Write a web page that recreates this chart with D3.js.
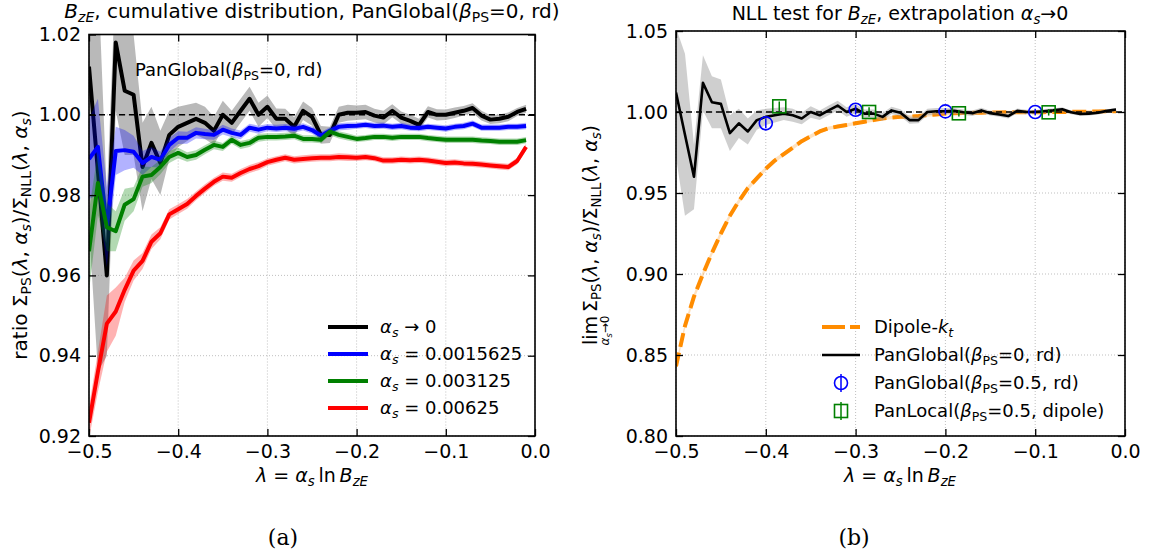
<!DOCTYPE html>
<html>
<head>
<meta charset="utf-8">
<script src="https://cdn.jsdelivr.net/npm/d3@7"></script>
<style>
  body { margin: 0; background: #fff; }
  svg { display: block; }
  text { font-family: "DejaVu Sans", sans-serif; fill: #000; }
</style>
</head>
<body>
<svg id="fig" width="1153" height="556"></svg>
<script>
// lambda grid of the cumulative distributions
const lam = [-0.50,-0.49,-0.48,-0.47,-0.46,-0.45,-0.44,-0.43,-0.42,-0.41,
             -0.40,-0.39,-0.38,-0.37,-0.36,-0.35,-0.34,-0.33,-0.32,-0.31,
             -0.30,-0.29,-0.28,-0.27,-0.26,-0.25,-0.24,-0.23,-0.22,-0.21,
             -0.20,-0.19,-0.18,-0.17,-0.16,-0.15,-0.14,-0.13,-0.12,-0.11,
             -0.10,-0.09,-0.08,-0.07,-0.06,-0.05,-0.04,-0.03,-0.02,-0.01];

// alpha_s -> 0 (PanGlobal beta=0, rd)
const ratioLimit = [1.012,0.986,0.960,1.018,1.006,1.005,0.987,0.993,0.988,0.995,
                    0.997,0.998,0.999,0.998,0.996,1.000,0.998,1.001,1.004,1.000,
                    1.002,0.999,0.999,0.997,1.001,0.9995,0.995,0.995,1.000,1.0005,
                    1.0005,1.0007,0.9998,0.9993,1.001,0.9993,0.9985,0.9975,1.0007,1.000,
                    1.000,1.0005,1.001,1.0017,0.9998,0.9988,0.999,0.9995,1.0007,1.0015];
const errLimit = [0.040,0.050,0.020,0.017,0.016,0.015,0.011,0.009,0.008,0.006,
                  0.005,0.0045,0.004,0.004,0.0035,0.0035,0.003,0.003,0.003,0.003,
                  0.0028,0.0026,0.0025,0.0024,0.0023,0.0022,0.0022,0.002,0.002,0.002,
                  0.0018,0.0018,0.0017,0.0017,0.0016,0.0015,0.0015,0.0015,0.0014,0.0014,
                  0.0013,0.0013,0.0012,0.0012,0.0012,0.0011,0.0011,0.0011,0.001,0.001];

// alpha_s = 0.0015625
const ratioA1 = [0.989,0.992,0.972,0.991,0.9912,0.9908,0.988,0.9895,0.9888,0.9925,
                 0.9943,0.9943,0.9955,0.9952,0.995,0.9963,0.9955,0.995,0.9968,0.9963,
                 0.9968,0.9966,0.9968,0.9965,0.997,0.9962,0.9948,0.996,0.997,0.9972,
                 0.9973,0.9975,0.9972,0.9973,0.997,0.9972,0.9968,0.9967,0.997,0.9968,
                 0.9966,0.997,0.9972,0.9978,0.9968,0.9968,0.9968,0.997,0.997,0.9972];
const errA1 = [0.010,0.012,0.010,0.006,0.005,0.004,0.003,0.0025,0.002,0.0018,
               0.0016,0.0015,0.0014,0.0013,0.0012,0.0012,0.0011,0.0011,0.001,0.001,
               0.0009,0.0009,0.0009,0.0009,0.0009,0.0009,0.0009,0.0009,0.0009,0.0009,
               0.0008,0.0008,0.0008,0.0008,0.0008,0.0008,0.0008,0.0008,0.0008,0.0008,
               0.0008,0.0008,0.0008,0.0008,0.0008,0.0008,0.0008,0.0008,0.0008,0.0008];

// alpha_s = 0.003125
const ratioA2 = [0.966,0.983,0.972,0.971,0.9776,0.979,0.9846,0.985,0.987,0.9895,
                 0.9905,0.9895,0.990,0.9913,0.9925,0.992,0.9938,0.9925,0.993,0.9943,
                 0.9945,0.9945,0.9946,0.9948,0.994,0.994,0.9938,0.9958,0.995,0.9945,
                 0.994,0.9942,0.9945,0.9945,0.9943,0.9945,0.9945,0.9945,0.9942,0.994,
                 0.9938,0.9938,0.9938,0.9938,0.9936,0.9935,0.9933,0.9933,0.9933,0.9937];
const errA2 = [0.010,0.008,0.006,0.005,0.004,0.003,0.0025,0.002,0.0018,0.0015,
               0.0013,0.0012,0.0012,0.0011,0.0011,0.001,0.001,0.001,0.001,0.001,
               0.0009,0.0009,0.0009,0.0009,0.0009,0.0009,0.0009,0.0009,0.0009,0.0009,
               0.0008,0.0008,0.0008,0.0008,0.0008,0.0008,0.0008,0.0008,0.0008,0.0008,
               0.0008,0.0008,0.0008,0.0008,0.0008,0.0008,0.0008,0.0008,0.0008,0.0008];

// alpha_s = 0.00625
const ratioA3 = [0.9233,0.936,0.948,0.951,0.9564,0.9612,0.9636,0.9684,0.9705,0.9752,
                 0.9765,0.9778,0.9798,0.9816,0.9833,0.9846,0.9843,0.9855,0.9865,0.9872,
                 0.9882,0.9888,0.9893,0.9888,0.989,0.9892,0.9893,0.9893,0.9895,0.9894,
                 0.9893,0.9895,0.9892,0.9886,0.9886,0.9888,0.9887,0.9888,0.9886,0.9883,
                 0.988,0.9881,0.9879,0.9878,0.9876,0.9874,0.9872,0.987,0.9885,0.992];
const errA3 = [0.004,0.005,0.007,0.006,0.003,0.0025,0.002,0.0018,0.0015,0.0013,
               0.0012,0.0012,0.0011,0.0011,0.001,0.001,0.001,0.001,0.001,0.001,
               0.0009,0.0009,0.0009,0.0009,0.0009,0.0009,0.0009,0.0009,0.0009,0.0009,
               0.0008,0.0008,0.0008,0.0008,0.0008,0.0008,0.0008,0.0008,0.0008,0.0008,
               0.0008,0.0008,0.0008,0.0008,0.0008,0.0008,0.0008,0.0008,0.0008,0.0008];

// Dipole-kt
const ratioDipole = [0.843,0.868,0.886,0.900,0.913,0.925,0.936,0.945,0.953,0.959,
                     0.965,0.970,0.974,0.978,0.982,0.985,0.988,0.990,0.991,0.992,
                     0.993,0.994,0.995,0.996,0.9965,0.997,0.9972,0.9975,0.998,0.9985,
                     0.999,0.9992,0.9994,0.9995,0.9996,0.9997,0.9997,0.9998,0.9998,0.9999,
                     0.9999,0.9999,1.000,1.000,1.0001,1.0001,1.0002,1.0003,1.0004,1.0005];
const errDipole = [0.002,0.002,0.002,0.002,0.0018,0.0018,0.0016,0.0016,0.0015,0.0015,
                   0.0014,0.0014,0.0013,0.0013,0.0012,0.0012,0.0012,0.0011,0.0011,0.0011,
                   0.001,0.001,0.001,0.001,0.001,0.001,0.001,0.001,0.001,0.001,
                   0.001,0.001,0.001,0.001,0.001,0.001,0.001,0.001,0.001,0.001,
                   0.001,0.001,0.001,0.001,0.001,0.001,0.001,0.001,0.001,0.001];

// PanGlobal(beta=0.5, rd) and PanLocal(beta=0.5, dipole) extrapolated points
const pgLam = [-0.4, -0.3, -0.2, -0.1];
const pgVal = [0.993, 1.0014, 1.0004, 1.0];
const pgErr = [0.003, 0.003, 0.002, 0.002];
const plLam = [-0.385, -0.285, -0.185, -0.085];
const plVal = [1.0035, 1.0, 0.9992, 0.9998];
const plErr = [0.003, 0.003, 0.002, 0.002];

const xTicks = [-0.5, -0.4, -0.3, -0.2, -0.1, 0.0];
const yTicksL = [0.92, 0.94, 0.96, 0.98, 1.00, 1.02];
const yTicksR = [0.80, 0.85, 0.90, 0.95, 1.00, 1.05];

const svg = d3.select("#fig");

const xL = d3.scaleLinear().domain([-0.5, 0]).range([89, 535]);
const yL = d3.scaleLinear().domain([0.92, 1.02]).range([436, 34.5]);
const xR = d3.scaleLinear().domain([-0.5, 0]).range([676, 1125]);
const yR = d3.scaleLinear().domain([0.80, 1.05]).range([436, 31]);

// mathtext-like text: parts are [string, style], style has i = italic, s = subscript
function rich(sel, parts, fs) {
  let shifted = false;
  parts.forEach(([t, st]) => {
    const sub = st.includes("s");
    const ts = sel.append("tspan").text(t)
      .attr("font-style", st.includes("i") ? "italic" : "normal")
      .attr("font-size", sub ? fs * 0.7 : fs);
    if (sub && !shifted) { ts.attr("dy", fs * 0.22); shifted = true; }
    else if (!sub && shifted) { ts.attr("dy", -fs * 0.22); shifted = false; }
  });
  return sel;
}

function series(vals, errs) {
  return lam.map((l, i) => ({ l: l, v: vals[i], e: errs[i] }));
}

function frame(x, y, yTicks, id) {
  const x0 = x.range()[0], x1 = x.range()[1], yb = y.range()[0], yt = y.range()[1];
  const grid = svg.append("g");
  grid.selectAll("line.gx").data(xTicks).join("line")
    .attr("x1", d => x(d)).attr("x2", d => x(d)).attr("y1", yt).attr("y2", yb);
  grid.selectAll("line.gy").data(yTicks).join("line")
    .attr("x1", x0).attr("x2", x1).attr("y1", d => y(d)).attr("y2", d => y(d));
  grid.selectAll("line").attr("stroke", "#b8b8b8").attr("stroke-width", 0.9)
    .attr("stroke-dasharray", "1,2");

  svg.append("clipPath").attr("id", id).append("rect")
    .attr("x", x0).attr("y", yt).attr("width", x1 - x0).attr("height", yb - yt);
  return svg.append("g").attr("clip-path", `url(#${id})`);
}

function axes(x, y, yTicks, yFmt) {
  const x0 = x.range()[0], x1 = x.range()[1], yb = y.range()[0], yt = y.range()[1];
  const style = g => {
    g.attr("font-size", null).attr("font-family", null);
    g.select(".domain").remove();
    g.selectAll("line").attr("stroke-width", 1.3);
    g.selectAll("text").attr("font-size", 19);
  };
  svg.append("g").attr("transform", `translate(0,${yb})`)
    .call(d3.axisBottom(x).tickValues(xTicks).tickFormat(d3.format(".1f"))
      .tickSizeInner(-7).tickSizeOuter(0).tickPadding(9)).call(style);
  svg.append("g").attr("transform", `translate(0,${yt})`)
    .call(d3.axisTop(x).tickValues(xTicks).tickFormat("")
      .tickSizeInner(-7).tickSizeOuter(0)).call(style);
  svg.append("g").attr("transform", `translate(${x0},0)`)
    .call(d3.axisLeft(y).tickValues(yTicks).tickFormat(d3.format(yFmt))
      .tickSizeInner(-7).tickSizeOuter(0).tickPadding(8)).call(style);
  svg.append("g").attr("transform", `translate(${x1},0)`)
    .call(d3.axisRight(y).tickValues(yTicks).tickFormat("")
      .tickSizeInner(-7).tickSizeOuter(0)).call(style);
  svg.append("rect").attr("x", x0).attr("y", yt).attr("width", x1 - x0).attr("height", yb - yt)
    .attr("fill", "none").attr("stroke", "#000").attr("stroke-width", 1.6);
}

function band(g, x, y, data, color, op) {
  g.append("path").datum(data)
    .attr("d", d3.area().x(d => x(d.l)).y0(d => y(d.v - d.e)).y1(d => y(d.v + d.e)))
    .attr("fill", color).attr("fill-opacity", op).attr("stroke", "none");
}
function curve(g, x, y, data, color, w, dash) {
  const p = g.append("path").datum(data)
    .attr("d", d3.line().x(d => x(d.l)).y(d => y(d.v)))
    .attr("fill", "none").attr("stroke", color).attr("stroke-width", w)
    .attr("stroke-linejoin", "round");
  if (dash) p.attr("stroke-dasharray", dash);
}

const thin = "\u2009";
const alphaS = [["α", "i"], ["s", "si"]];
const sigmaRatio = [["Σ", ""], ["PS", "s"], ["(", ""], ["λ", "i"], [", ", ""], ...alphaS, [")/", ""],
                    ["Σ", ""], ["NLL", "s"], ["(", ""], ["λ", "i"], [", ", ""], ...alphaS, [")", ""]];
const xLabel = [["λ", "i"], [" = ", ""], ...alphaS, [thin + "ln" + thin, ""], ["B", "i"], ["zE", "si"]];

// ---------- panel (a) ----------
const gL = frame(xL, yL, yTicksL, "clipL");
const sLim = series(ratioLimit, errLimit);
const sA1 = series(ratioA1, errA1);
const sA2 = series(ratioA2, errA2);
const sA3 = series(ratioA3, errA3);
band(gL, xL, yL, sLim, "#808080", 0.55);
curve(gL, xL, yL, sLim, "#000", 4);
band(gL, xL, yL, sA1, "#0000ff", 0.3);
curve(gL, xL, yL, sA1, "#0000ff", 4);
band(gL, xL, yL, sA2, "#008000", 0.3);
curve(gL, xL, yL, sA2, "#008000", 4);
band(gL, xL, yL, sA3, "#ff0000", 0.3);
curve(gL, xL, yL, sA3, "#ff0000", 4);
gL.append("line").attr("x1", xL(-0.5)).attr("x2", xL(0)).attr("y1", yL(1)).attr("y2", yL(1))
  .attr("stroke", "#000").attr("stroke-width", 1.5).attr("stroke-dasharray", "6,4");
axes(xL, yL, yTicksL, ".2f");

rich(svg.append("text").attr("x", 135).attr("y", 76), [["PanGlobal(", ""], ["β", "i"], ["PS", "s"], ["=0, rd)", ""]], 18);
rich(svg.append("text").attr("x", 312).attr("y", 18).attr("text-anchor", "middle"),
  [["B", "i"], ["zE", "si"], [", cumulative distribution, PanGlobal(", ""], ["β", "i"], ["PS", "s"], ["=0, rd)", ""]], 20);
rich(svg.append("text").attr("x", 312).attr("y", 482).attr("text-anchor", "middle"), xLabel, 19);
rich(svg.append("text").attr("transform", "translate(27,235) rotate(-90)").attr("text-anchor", "middle"),
  [["ratio ", ""], ...sigmaRatio], 20);

const legL = [
  { c: "#000", p: [...alphaS, [" → 0", ""]] },
  { c: "#0000ff", p: [...alphaS, [" = 0.0015625", ""]] },
  { c: "#008000", p: [...alphaS, [" = 0.003125", ""]] },
  { c: "#ff0000", p: [...alphaS, [" = 0.00625", ""]] }
];
legL.forEach((d, i) => {
  const yy = 327 + i * 27;
  svg.append("line").attr("x1", 328).attr("x2", 368).attr("y1", yy).attr("y2", yy)
    .attr("stroke", d.c).attr("stroke-width", 4);
  rich(svg.append("text").attr("x", 380).attr("y", yy + 6), d.p, 18);
});

svg.append("text").attr("x", 283).attr("y", 545).attr("text-anchor", "middle")
  .style("font-family", "'DejaVu Serif', serif").attr("font-size", 22).text("(a)");

// ---------- panel (b) ----------
const gR = frame(xR, yR, yTicksR, "clipR");
const sDip = series(ratioDipole, errDipole);
band(gR, xR, yR, sDip, "#ff8c00", 0.25);
curve(gR, xR, yR, sDip, "#ff8c00", 4, "14,6");
band(gR, xR, yR, sLim, "#a0a0a0", 0.5);
curve(gR, xR, yR, sLim, "#000", 2.6);
gR.append("line").attr("x1", xR(-0.5)).attr("x2", xR(0)).attr("y1", yR(1)).attr("y2", yR(1))
  .attr("stroke", "#000").attr("stroke-width", 1.5).attr("stroke-dasharray", "6,4");

const pg = pgLam.map((l, i) => ({ l: l, v: pgVal[i], e: pgErr[i] }));
const pl = plLam.map((l, i) => ({ l: l, v: plVal[i], e: plErr[i] }));
gR.selectAll("line.pge").data(pg).join("line")
  .attr("x1", d => xR(d.l)).attr("x2", d => xR(d.l))
  .attr("y1", d => yR(d.v - d.e)).attr("y2", d => yR(d.v + d.e))
  .attr("stroke", "#0000ff").attr("stroke-width", 1.5);
gR.selectAll("circle.pg").data(pg).join("circle")
  .attr("cx", d => xR(d.l)).attr("cy", d => yR(d.v)).attr("r", 6.5)
  .attr("fill", "none").attr("stroke", "#0000ff").attr("stroke-width", 1.6);
gR.selectAll("line.ple").data(pl).join("line")
  .attr("x1", d => xR(d.l)).attr("x2", d => xR(d.l))
  .attr("y1", d => yR(d.v - d.e)).attr("y2", d => yR(d.v + d.e))
  .attr("stroke", "#008000").attr("stroke-width", 1.5);
gR.selectAll("rect.pl").data(pl).join("rect")
  .attr("x", d => xR(d.l) - 6.5).attr("y", d => yR(d.v) - 6.5).attr("width", 13).attr("height", 13)
  .attr("fill", "none").attr("stroke", "#008000").attr("stroke-width", 1.6);
axes(xR, yR, yTicksR, ".2f");

rich(svg.append("text").attr("x", 900).attr("y", 20).attr("text-anchor", "middle"),
  [["NLL test for ", ""], ["B", "i"], ["zE", "si"], [", extrapolation ", ""], ...alphaS, ["→0", ""]], 19);
rich(svg.append("text").attr("x", 900).attr("y", 482).attr("text-anchor", "middle"), xLabel, 19);

// y label with lim and its subscript
const yl = svg.append("g").attr("transform", "translate(597,235) rotate(-90)");
const limT = yl.append("text").attr("font-size", 19).text("lim");
const restT = rich(yl.append("text"), sigmaRatio, 19);
const gap = 4;
const wLim = limT.node().getComputedTextLength();
const wRest = restT.node().getComputedTextLength();
const start = -(wLim + gap + wRest) / 2;
limT.attr("x", start);
restT.attr("x", start + wLim + gap);
rich(yl.append("text").attr("x", start + wLim / 2).attr("y", 12).attr("text-anchor", "middle"),
  [["α", "i"], ["s", "si"], ["→0", ""]], 12);

const legR = [
  { k: "dash", p: [["Dipole-", ""], ["k", "i"], ["t", "si"]] },
  { k: "line", p: [["PanGlobal(", ""], ["β", "i"], ["PS", "s"], ["=0, rd)", ""]] },
  { k: "circle", p: [["PanGlobal(", ""], ["β", "i"], ["PS", "s"], ["=0.5, rd)", ""]] },
  { k: "square", p: [["PanLocal(", ""], ["β", "i"], ["PS", "s"], ["=0.5, dipole)", ""]] }
];
legR.forEach((d, i) => {
  const yy = 327 + i * 28;
  if (d.k === "dash") {
    svg.append("line").attr("x1", 822).attr("x2", 860).attr("y1", yy).attr("y2", yy)
      .attr("stroke", "#ff8c00").attr("stroke-width", 4).attr("stroke-dasharray", "23,5");
  } else if (d.k === "line") {
    svg.append("line").attr("x1", 822).attr("x2", 860).attr("y1", yy).attr("y2", yy)
      .attr("stroke", "#000").attr("stroke-width", 2.6);
  } else {
    const c = d.k === "circle" ? "#0000ff" : "#008000";
    svg.append("line").attr("x1", 841).attr("x2", 841).attr("y1", yy - 9).attr("y2", yy + 9)
      .attr("stroke", c).attr("stroke-width", 1.5);
    if (d.k === "circle") {
      svg.append("circle").attr("cx", 841).attr("cy", yy).attr("r", 6.5)
        .attr("fill", "none").attr("stroke", c).attr("stroke-width", 1.6);
    } else {
      svg.append("rect").attr("x", 834.5).attr("y", yy - 6.5).attr("width", 13).attr("height", 13)
        .attr("fill", "none").attr("stroke", c).attr("stroke-width", 1.6);
    }
  }
  rich(svg.append("text").attr("x", 874).attr("y", yy + 6), d.p, 18);
});

svg.append("text").attr("x", 854).attr("y", 545).attr("text-anchor", "middle")
  .style("font-family", "'DejaVu Serif', serif").attr("font-size", 22).text("(b)");
</script>
</body>
</html>
